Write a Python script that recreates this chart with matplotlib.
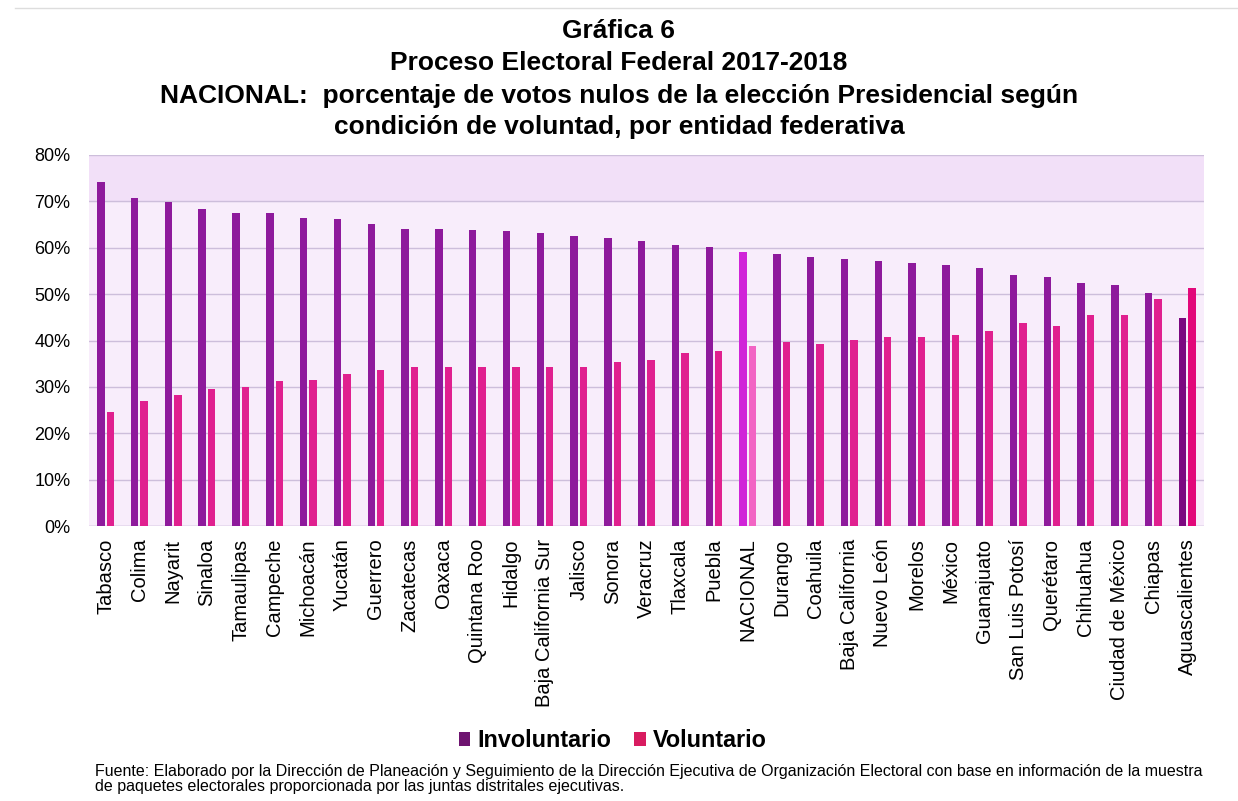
import matplotlib
matplotlib.use("Agg")
import matplotlib.pyplot as plt
from matplotlib.patches import Patch
from matplotlib.lines import Line2D
import numpy as np

plt.rcParams['font.family'] = ['Liberation Sans', 'DejaVu Sans']

categories = ["Tabasco", "Colima", "Nayarit", "Sinaloa", "Tamaulipas", "Campeche",
              "Michoacán", "Yucatán", "Guerrero", "Zacatecas", "Oaxaca", "Quintana Roo",
              "Hidalgo", "Baja California Sur", "Jalisco", "Sonora", "Veracruz", "Tlaxcala",
              "Puebla", "NACIONAL", "Durango", "Coahuila", "Baja California", "Nuevo León",
              "Morelos", "México", "Guanajuato", "San Luis Potosí", "Querétaro", "Chihuahua",
              "Ciudad de México", "Chiapas", "Aguascalientes"]

involuntario = [74.1, 70.8, 69.8, 68.3, 67.6, 67.5, 66.5, 66.1, 65.2, 64.0, 64.0, 63.8,
                63.6, 63.1, 62.5, 62.1, 61.4, 60.6, 60.2, 59.0, 58.6, 58.0, 57.5, 57.2,
                56.7, 56.3, 55.6, 54.2, 53.7, 52.3, 52.0, 50.2, 44.8]

voluntario = [24.6, 27.0, 28.2, 29.5, 30.0, 31.2, 31.4, 32.7, 33.6, 34.2, 34.2, 34.2,
              34.2, 34.2, 34.2, 35.4, 35.9, 37.4, 37.8, 38.8, 39.7, 39.2, 40.1, 40.7,
              40.8, 41.2, 42.1, 43.7, 43.2, 45.5, 45.5, 49.0, 51.4]

yticks = [0, 10, 20, 30, 40, 50, 60, 70, 80]

title_lines = ["Gráfica 6",
               "Proceso Electoral Federal 2017-2018",
               "NACIONAL:  porcentaje de votos nulos de la elección Presidencial según",
               "condición de voluntad, por entidad federativa"]
fuente = ("Fuente: Elaborado por la Dirección de Planeación y Seguimiento de la Dirección Ejecutiva de Organización Electoral con base en información de la muestra\n"
          "de paquetes electorales proporcionada por las juntas distritales ejecutivas.")

C_INV = "#8E1A9C"
C_VOL = "#E0208F"

inv_colors = []
vol_colors = []
for c in categories:
    if c == "NACIONAL":
        inv_colors.append("#D024D8"); vol_colors.append("#F264C4")
    elif c == "Aguascalientes":
        inv_colors.append("#7C0880"); vol_colors.append("#E2087A")
    else:
        inv_colors.append(C_INV); vol_colors.append(C_VOL)

fig = plt.figure(figsize=(12.38, 8.01), dpi=100)
ax = fig.add_axes([0.0716, 0.3433, 0.9010, 0.4632])
ax.set_facecolor("#F8EDFB")
ax.axhspan(70, 80, color="#F2E0F8", zorder=0)

x = np.arange(len(categories))
w = 0.22
ax.bar(x - w / 2 - 0.03, involuntario, width=w, color=inv_colors, zorder=3)
ax.bar(x + w / 2 + 0.03, voluntario, width=w, color=vol_colors, zorder=3)

ax.set_ylim(0, 80)
ax.set_xlim(-0.5, len(categories) - 0.5)
ax.set_yticks(yticks)
ax.set_yticklabels([f"{v}%" for v in yticks], fontsize=13)
ax.yaxis.grid(True, color="#CDBEDB", linewidth=1.0, zorder=1)
ax.set_xticks(x)
ax.set_xticklabels(categories, rotation=90, fontsize=14.5)
ax.tick_params(axis="y", length=0, pad=13)
ax.tick_params(axis="x", length=0, pad=9)
for s in ax.spines.values():
    s.set_visible(False)
ax.axhline(0, color="#CDBEDB", linewidth=1.0, zorder=2)

ys = [0.961, 0.921, 0.880, 0.841]
for t, y in zip(title_lines, ys):
    fig.text(0.5, y, t, ha="center", va="center", fontsize=19, fontweight="bold")

handles = [Patch(facecolor="#6E1470"), Patch(facecolor="#D81B60")]
fig.legend(handles, ["Involuntario", "Voluntario"], loc="center", bbox_to_anchor=(0.495, 0.075),
           ncol=2, frameon=False, prop={"size": 16.8, "weight": "bold"},
           handlelength=0.5, handleheight=0.5, handletextpad=0.3, columnspacing=1.0)

fig.text(0.077, 0.027, fuente, ha="left", va="center", fontsize=11.5,
         family=["Liberation Sans Narrow", "Liberation Sans"], linespacing=1.0)

fig.add_artist(Line2D([0.012, 1.0], [0.99, 0.99], color="#DDDDDD", linewidth=1.0))

fig.savefig("out.png", dpi=100)
